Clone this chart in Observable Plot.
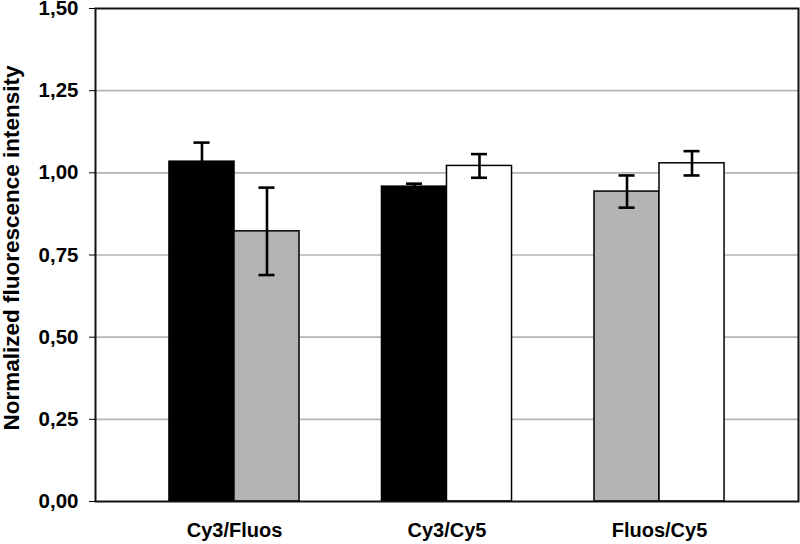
<!DOCTYPE html>
<html>
<head>
<meta charset="utf-8">
<script src="https://cdn.jsdelivr.net/npm/d3@7"></script>
<script src="https://cdn.jsdelivr.net/npm/@observablehq/plot@0.6"></script>
<style>
  html, body { margin: 0; padding: 0; background: #fff; }
  #chart svg { font-family: "Liberation Sans", Arial, sans-serif; font-weight: bold; }
</style>
</head>
<body>
<div id="chart"></div>
<script>
// Pairs (categories)
const pairs = ["Cy3/Fluos", "Cy3/Cy5", "Fluos/Cy5"];
// Left bar of each pair
const leftDye = ["Cy3", "Cy3", "Fluos"];
const leftValue = [1.034, 0.958, 0.943];
const leftErr = [0.058, 0.009, 0.049];
// Right bar of each pair
const rightDye = ["Fluos", "Cy5", "Cy5"];
const rightValue = [0.822, 1.021, 1.029];
const rightErr = [0.133, 0.036, 0.037];
// Dyes and colours
const dyes = ["Cy3", "Fluos", "Cy5"];
const dyeColors = ["#000000", "#b4b4b4", "#ffffff"];
// Y ticks
const yTicks = [0, 0.25, 0.5, 0.75, 1.0, 1.25, 1.5];
const yTitle = "Normalized fluorescence intensity";

const left = pairs.map((p, i) => ({pair: p, dye: leftDye[i], value: leftValue[i], err: leftErr[i]}));
const right = pairs.map((p, i) => ({pair: p, dye: rightDye[i], value: rightValue[i], err: rightErr[i]}));

const band = 130, half = band / 2, cap = 16;
const capOuter = half / 2 - cap / 2;          // 24.5
const capInner = band - half / 2 - cap / 2;   // 89.5
const fmt = d => d.toFixed(2).replace(".", ",");

function errorMarks(data, side) {
  const dx = side === "left" ? -half / 2 : half / 2;
  const il = side === "left" ? capOuter : capInner;
  const ir = side === "left" ? capInner : capOuter;
  return [
    Plot.ruleX(data, {x: "pair", y1: d => d.value - d.err, y2: d => d.value + d.err, dx, stroke: "#000", strokeWidth: 2.6}),
    Plot.tickY(data, {x: "pair", y: d => d.value + d.err, insetLeft: il, insetRight: ir, stroke: "#000", strokeWidth: 2.6}),
    Plot.tickY(data, {x: "pair", y: d => d.value - d.err, insetLeft: il, insetRight: ir, stroke: "#000", strokeWidth: 2.6})
  ];
}

const chart = Plot.plot({
  width: 800,
  height: 544,
  marginLeft: 95,
  marginRight: 2,
  marginTop: 8,
  marginBottom: 43,
  x: {
    type: "band",
    domain: pairs,
    paddingInner: 0.388,
    paddingOuter: 0.348,
    round: false,
    label: null,
    tickSize: 0,
    tickPadding: 21
  },
  y: {
    domain: [0, 1.5],
    ticks: yTicks,
    tickFormat: fmt,
    tickSize: 6,
    tickPadding: 11,
    label: null
  },
  color: {domain: dyes, range: dyeColors},
  marks: [
    Plot.ruleY(yTicks.filter(t => t > 0 && t < 1.5), {stroke: "#b4b4b4", strokeWidth: 1.6}),
    Plot.barY(left, {x: "pair", y: "value", fill: "dye", stroke: "#000", strokeWidth: 1.5, insetRight: half, insetLeft: 0}),
    Plot.barY(right, {x: "pair", y: "value", fill: "dye", stroke: "#000", strokeWidth: 1.5, insetLeft: half, insetRight: 0}),
    ...errorMarks(left, "left"),
    ...errorMarks(right, "right"),
    Plot.frame({stroke: "#111", strokeWidth: 2}),
    Plot.text([yTitle], {text: d => d, frameAnchor: "left", rotate: -90, dx: -92, dy: -7, textAnchor: "middle", lineAnchor: "top", fontSize: 22.5, fontWeight: "bold", fill: "#000"})
  ]
});
// Enlarge tick label text (Excel-style bold labels)
const yLabels = new Set(yTicks.map(fmt));
const xLabels = new Set(pairs);
d3.select(chart).selectAll("text").each(function() {
  const t = this.textContent;
  if (yLabels.has(t)) this.style.fontSize = "20.5px";
  else if (xLabels.has(t)) this.style.fontSize = "20px";
});
document.getElementById("chart").appendChild(chart);
</script>
</body>
</html>
